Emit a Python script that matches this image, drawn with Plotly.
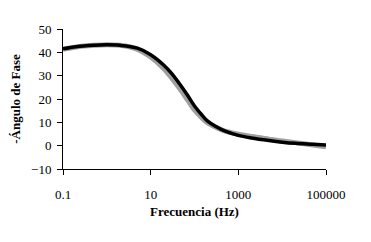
import plotly.graph_objects as go

freq = [0.1, 0.2, 0.5, 1, 2, 5, 10, 20, 30, 50, 70, 100, 150, 200, 300, 500,
        1000, 2000, 5000, 10000, 20000, 50000, 100000]
phase_black = [41.5, 42.4, 43.0, 43.2, 43.0, 41.8, 39.0, 34.5, 31.0, 25.5, 21.5, 17.0, 13.0, 10.5, 8.3, 6.2,
               4.4, 3.3, 2.2, 1.5, 1.0, 0.6, 0.3]
phase_gray = [41.3, 42.3, 43.0, 43.3, 43.0, 41.3, 38.0, 33.0, 29.0, 23.5, 19.5, 15.3, 11.8, 9.7, 8.0, 6.2,
              4.9, 3.9, 2.8, 2.0, 1.3, 0.3, -0.5]

y_ticks = [-10, 0, 10, 20, 30, 40, 50]
x_ticks = [0.1, 10, 1000, 100000]
x_ticklabels = ["0.1", "10", "1000", "100000"]

fig = go.Figure()
fig.add_trace(go.Scatter(x=freq, y=phase_gray, mode="lines",
                         line=dict(color="#a0a0a0", width=5, shape="spline", smoothing=1),
                         showlegend=False))
fig.add_trace(go.Scatter(x=freq, y=phase_black, mode="lines",
                         line=dict(color="#000000", width=3.5, shape="spline", smoothing=1),
                         showlegend=False))

font_family = "Times New Roman, Liberation Serif, serif"
fig.update_layout(
    width=371, height=242,
    margin=dict(l=55, r=53, t=21, b=81, autoexpand=False),
    paper_bgcolor="white", plot_bgcolor="white",
    font=dict(family=font_family, size=13, color="#000000"),
    xaxis=dict(type="log", range=[-1, 5], tickvals=x_ticks, ticktext=x_ticklabels,
               showgrid=False, zeroline=False, showline=True, linecolor="black", linewidth=1,
               ticks="outside", ticklen=5, tickcolor="black",
               ticklabelstandoff=8, automargin=False,
               title=dict(text="<b>Frecuencia (Hz)</b>", font=dict(size=13), standoff=6)),
    yaxis=dict(range=[-10, 50], tickvals=y_ticks,
               showgrid=False, zeroline=False, showline=True, linecolor="black", linewidth=1,
               ticks="outside", ticklen=5, tickcolor="black",
               ticklabelstandoff=3, automargin=False,
               title=dict(text="<b>-Ángulo de Fase</b>", font=dict(size=13), standoff=8)),
)

fig.write_html("out.html")
